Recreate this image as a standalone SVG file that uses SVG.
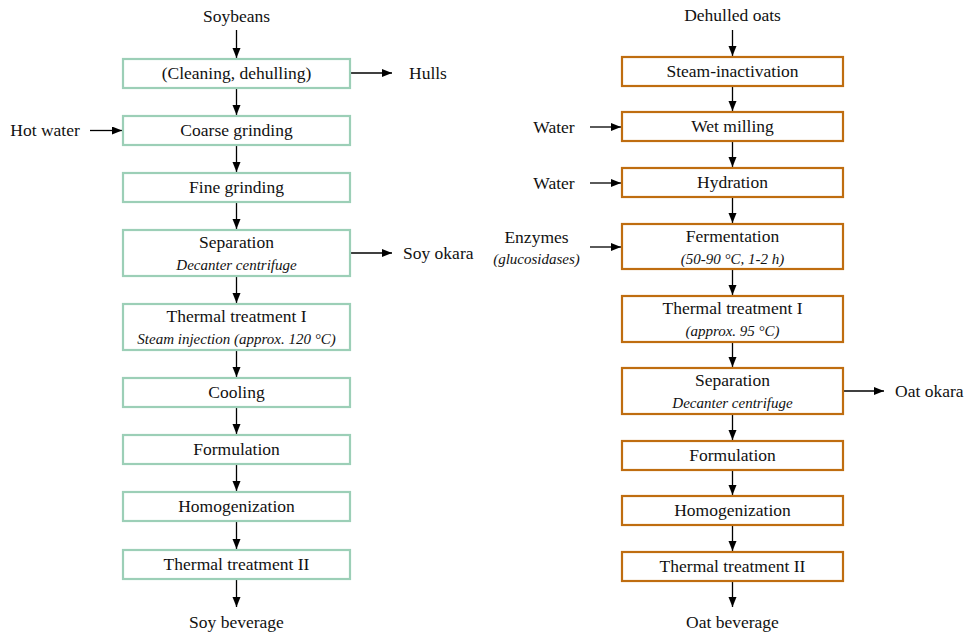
<svg xmlns="http://www.w3.org/2000/svg" width="971" height="635" viewBox="0 0 971 635" font-family="'Liberation Serif', 'DejaVu Serif', serif">
<defs>
<marker id="ah" markerUnits="userSpaceOnUse" markerWidth="11" markerHeight="9" refX="10" refY="4" orient="auto">
<path d="M0,0 L10,4 L0,8 z" fill="#000"/>
</marker>
<style>
text{font-family:'Liberation Serif','DejaVu Serif',serif;font-size:17.5px;fill:#111;text-anchor:middle}
text.i{font-style:italic;font-size:15px}
text.s{text-anchor:start}
.g{fill:#fff;stroke:#9ccfb7;stroke-width:2.2}
.o{fill:#fff;stroke:#bf6d10;stroke-width:2.2}
#connectors line{stroke:#000;stroke-width:1.3;marker-end:url(#ah)}
</style>
</defs>
<rect width="971" height="635" fill="#fff"/>

<g id="connectors">
<line x1="236.5" y1="30" x2="236.5" y2="58"/>
<line x1="236.5" y1="88" x2="236.5" y2="115"/>
<line x1="236.5" y1="145" x2="236.5" y2="172"/>
<line x1="236.5" y1="202" x2="236.5" y2="229"/>
<line x1="236.5" y1="276" x2="236.5" y2="303"/>
<line x1="236.5" y1="350" x2="236.5" y2="377"/>
<line x1="236.5" y1="407" x2="236.5" y2="434"/>
<line x1="236.5" y1="464" x2="236.5" y2="491"/>
<line x1="236.5" y1="521" x2="236.5" y2="549"/>
<line x1="236.5" y1="579" x2="236.5" y2="607"/>
<line x1="351" y1="73" x2="392" y2="73"/>
<line x1="90" y1="130.5" x2="122" y2="130.5"/>
<line x1="351" y1="253" x2="392" y2="253"/>

<line x1="732.5" y1="30" x2="732.5" y2="56"/>
<line x1="732.5" y1="86" x2="732.5" y2="111"/>
<line x1="732.5" y1="141" x2="732.5" y2="167"/>
<line x1="732.5" y1="197" x2="732.5" y2="223"/>
<line x1="732.5" y1="269" x2="732.5" y2="295"/>
<line x1="732.5" y1="342" x2="732.5" y2="367"/>
<line x1="732.5" y1="414" x2="732.5" y2="440"/>
<line x1="732.5" y1="470" x2="732.5" y2="495"/>
<line x1="732.5" y1="525" x2="732.5" y2="551"/>
<line x1="732.5" y1="581" x2="732.5" y2="607"/>
<line x1="590" y1="127" x2="621" y2="127"/>
<line x1="590" y1="183" x2="621" y2="183"/>
<line x1="590" y1="247" x2="621" y2="247"/>
<line x1="844" y1="391" x2="884" y2="391"/>
</g>

<g id="soy-input"><text x="236.5" y="22">Soybeans</text></g>
<g id="hulls"><text class="s" x="409" y="79">Hulls</text></g>
<g id="hot-water"><text x="45" y="136">Hot water</text></g>
<g id="soy-okara"><text class="s" x="403" y="259">Soy okara</text></g>
<g id="soy-output"><text x="236.5" y="628">Soy beverage</text></g>

<g id="s1"><rect class="g" x="123" y="59" width="227" height="29"/><text x="236.5" y="79">(Cleaning, dehulling)</text></g>
<g id="s2"><rect class="g" x="123" y="116" width="227" height="29"/><text x="236.5" y="136">Coarse grinding</text></g>
<g id="s3"><rect class="g" x="123" y="173" width="227" height="29"/><text x="236.5" y="193">Fine grinding</text></g>
<g id="s4"><rect class="g" x="123" y="230" width="227" height="46"/><text x="236.5" y="248">Separation</text><text class="i" x="236.5" y="270">Decanter centrifuge</text></g>
<g id="s5"><rect class="g" x="123" y="304" width="227" height="46"/><text x="236.5" y="322">Thermal treatment I</text><text class="i" x="236.5" y="344">Steam injection (approx. 120 °C)</text></g>
<g id="s6"><rect class="g" x="123" y="378" width="227" height="29"/><text x="236.5" y="398">Cooling</text></g>
<g id="s7"><rect class="g" x="123" y="435" width="227" height="29"/><text x="236.5" y="455">Formulation</text></g>
<g id="s8"><rect class="g" x="123" y="492" width="227" height="29"/><text x="236.5" y="512">Homogenization</text></g>
<g id="s9"><rect class="g" x="123" y="550" width="227" height="29"/><text x="236.5" y="570">Thermal treatment II</text></g>

<g id="oat-input"><text x="732.5" y="21">Dehulled oats</text></g>
<g id="water1"><text x="554" y="133">Water</text></g>
<g id="water2"><text x="554" y="189">Water</text></g>
<g id="enzymes"><text x="536.5" y="243">Enzymes</text><text class="i" x="536.5" y="264">(glucosidases)</text></g>
<g id="oat-okara"><text class="s" x="895" y="397">Oat okara</text></g>
<g id="oat-output"><text x="732.5" y="628">Oat beverage</text></g>

<g id="o1"><rect class="o" x="622" y="57" width="221" height="29"/><text x="732.5" y="77">Steam-inactivation</text></g>
<g id="o2"><rect class="o" x="622" y="112" width="221" height="29"/><text x="732.5" y="132">Wet milling</text></g>
<g id="o3"><rect class="o" x="622" y="168" width="221" height="29"/><text x="732.5" y="188">Hydration</text></g>
<g id="o4"><rect class="o" x="622" y="224" width="221" height="45"/><text x="732.5" y="242">Fermentation</text><text class="i" x="732.5" y="264">(50-90 °C, 1-2 h)</text></g>
<g id="o5"><rect class="o" x="622" y="296" width="221" height="46"/><text x="732.5" y="314">Thermal treatment I</text><text class="i" x="732.5" y="336">(approx. 95 °C)</text></g>
<g id="o6"><rect class="o" x="622" y="368" width="221" height="46"/><text x="732.5" y="386">Separation</text><text class="i" x="732.5" y="408">Decanter centrifuge</text></g>
<g id="o7"><rect class="o" x="622" y="441" width="221" height="29"/><text x="732.5" y="461">Formulation</text></g>
<g id="o8"><rect class="o" x="622" y="496" width="221" height="29"/><text x="732.5" y="516">Homogenization</text></g>
<g id="o9"><rect class="o" x="622" y="552" width="221" height="29"/><text x="732.5" y="572">Thermal treatment II</text></g>
</svg>
